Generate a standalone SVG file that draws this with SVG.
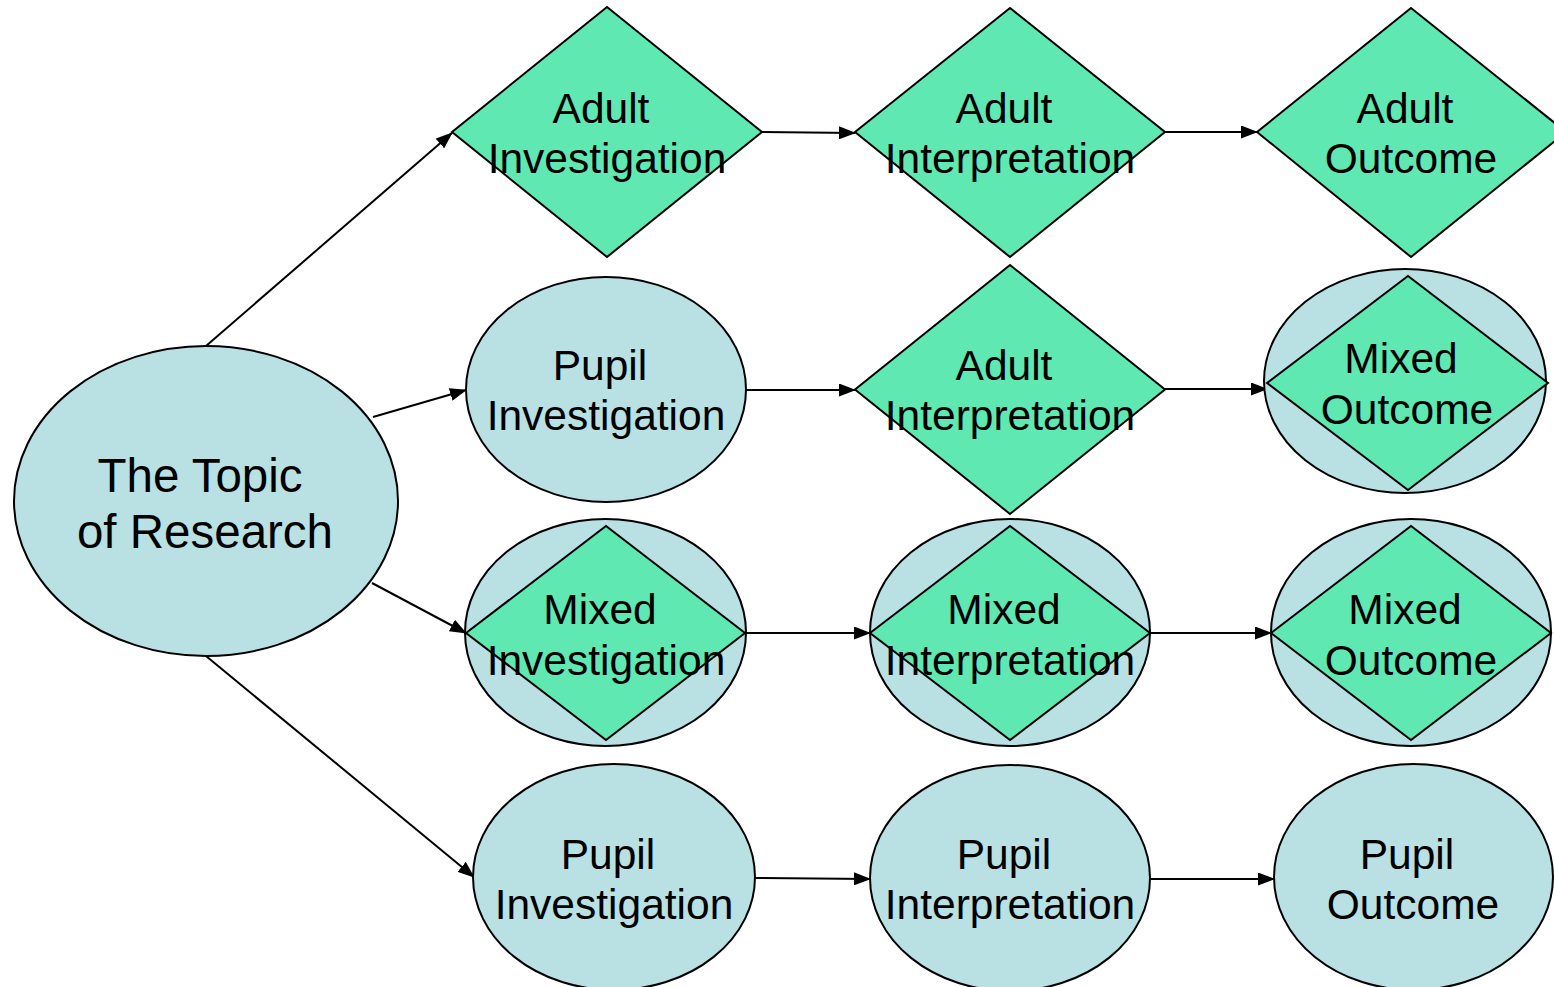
<svg xmlns="http://www.w3.org/2000/svg" width="1554" height="987" viewBox="0 0 1554 987">
<style>
.ell{fill:#B9E0E3;stroke:#000;stroke-width:2}
.dia{fill:#5FE8B2;stroke:#000;stroke-width:2}
.t{font-family:"Liberation Sans",Arial,sans-serif;font-size:42.5px;fill:#000;text-anchor:middle}
.tb{font-family:"Liberation Sans",Arial,sans-serif;font-size:47.5px;fill:#000;text-anchor:middle}
.c{stroke:#000;stroke-width:2;fill:none;marker-end:url(#arr)}
</style>
<defs>
<marker id="arr" markerUnits="userSpaceOnUse" markerWidth="17" markerHeight="13" refX="16" refY="6.5" orient="auto">
<path d="M0,0 L17,6.5 L0,13 Z" fill="#000"/>
</marker>
</defs>
<rect width="1554" height="987" fill="#fff"/>
<g id="connectors">
<line class="c" x1="206" y1="346" x2="452" y2="133"/>
<line class="c" x1="373" y1="417" x2="466" y2="390"/>
<line class="c" x1="372" y1="583" x2="466" y2="633"/>
<line class="c" x1="206" y1="656" x2="474" y2="877"/>
<line class="c" x1="762" y1="132" x2="855" y2="133"/>
<line class="c" x1="1165" y1="132" x2="1257" y2="132"/>
<line class="c" x1="746" y1="390" x2="855" y2="390"/>
<line class="c" x1="1165" y1="389" x2="1267" y2="389"/>
<line class="c" x1="746" y1="633" x2="870" y2="633"/>
<line class="c" x1="1150" y1="633" x2="1271" y2="633"/>
<line class="c" x1="755" y1="878" x2="870" y2="879"/>
<line class="c" x1="1150" y1="879" x2="1274" y2="879"/>
</g>
<g id="topic">
<ellipse class="ell" cx="206" cy="501" rx="192" ry="155"/>
<text class="tb" x="200" y="492">The Topic</text>
<text class="tb" x="205" y="548">of Research</text>
</g>
<g id="adult-investigation">
<polygon class="dia" points="452,132 607,7 762,132 607,257"/>
<text class="t" x="601" y="123">Adult</text>
<text class="t" x="607" y="173">Investigation</text>
</g>
<g id="adult-interpretation-1">
<polygon class="dia" points="855,132 1010,8 1165,132 1010,257"/>
<text class="t" x="1004" y="123">Adult</text>
<text class="t" x="1010" y="173">Interpretation</text>
</g>
<g id="adult-outcome">
<polygon class="dia" points="1257,132 1411,8 1566,132 1411,257"/>
<text class="t" x="1405" y="123">Adult</text>
<text class="t" x="1411" y="173">Outcome</text>
</g>
<g id="pupil-investigation-1">
<ellipse class="ell" cx="606" cy="389.5" rx="140" ry="112.5"/>
<text class="t" x="600" y="380">Pupil</text>
<text class="t" x="606" y="430">Investigation</text>
</g>
<g id="adult-interpretation-2">
<polygon class="dia" points="855,389.5 1010,265 1165,389.5 1010,514"/>
<text class="t" x="1004" y="380">Adult</text>
<text class="t" x="1010" y="430">Interpretation</text>
</g>
<g id="mixed-outcome-1">
<ellipse class="ell" cx="1405" cy="381" rx="141" ry="112"/>
<polygon class="dia" points="1267,383 1408,276 1548,383 1408,490"/>
<text class="t" x="1401" y="373">Mixed</text>
<text class="t" x="1407" y="424">Outcome</text>
</g>
<g id="mixed-investigation">
<ellipse class="ell" cx="605.5" cy="632.5" rx="140.5" ry="113.5"/>
<polygon class="dia" points="466,633 606,526 745,633 606,740"/>
<text class="t" x="600" y="624">Mixed</text>
<text class="t" x="606" y="675">Investigation</text>
</g>
<g id="mixed-interpretation">
<ellipse class="ell" cx="1010" cy="632.5" rx="140" ry="113.5"/>
<polygon class="dia" points="870,633 1010,526 1150,633 1010,740"/>
<text class="t" x="1004" y="624">Mixed</text>
<text class="t" x="1010" y="675">Interpretation</text>
</g>
<g id="mixed-outcome-2">
<ellipse class="ell" cx="1411" cy="632.5" rx="140" ry="113.5"/>
<polygon class="dia" points="1271,633 1411,526 1551,633 1411,740"/>
<text class="t" x="1405" y="624">Mixed</text>
<text class="t" x="1411" y="675">Outcome</text>
</g>
<g id="pupil-investigation-2">
<ellipse class="ell" cx="614" cy="877" rx="141" ry="113"/>
<text class="t" x="608" y="869">Pupil</text>
<text class="t" x="614" y="919">Investigation</text>
</g>
<g id="pupil-interpretation">
<ellipse class="ell" cx="1010" cy="878" rx="140" ry="113"/>
<text class="t" x="1004" y="869">Pupil</text>
<text class="t" x="1010" y="919">Interpretation</text>
</g>
<g id="pupil-outcome">
<ellipse class="ell" cx="1413.5" cy="877" rx="139.5" ry="113"/>
<text class="t" x="1407" y="869">Pupil</text>
<text class="t" x="1413" y="919">Outcome</text>
</g>
</svg>
